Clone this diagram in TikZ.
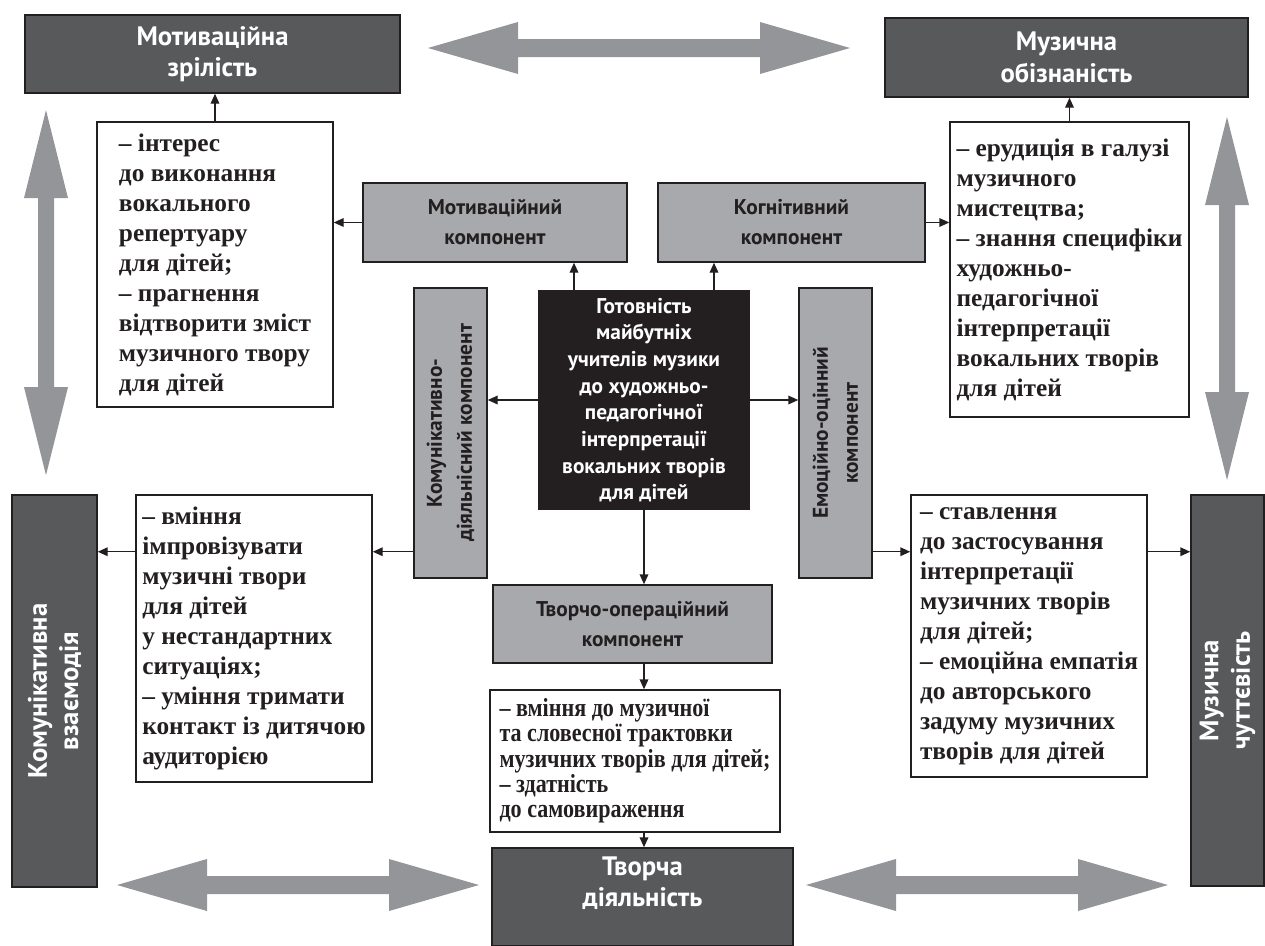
\documentclass[tikz,border=0pt]{standalone}
\usepackage{fontspec}
\setmainfont{Liberation Serif}
\setsansfont{PT Sans}
\newfontfamily\narrowserif[FakeStretch=0.85]{Liberation Serif}
\usepackage{xcolor}
\usetikzlibrary{arrows.meta, positioning, calc}
\definecolor{MDDark}{RGB}{88, 89, 91}
\definecolor{MDGrey}{RGB}{167, 169, 172}
\definecolor{MDArrow}{RGB}{147, 149, 152}
\definecolor{MDInk}{RGB}{35, 31, 32}

% wide grey double arrows (tip to tip)
\newcommand{\hbiarrow}[3]{%
  \fill[MDArrow] (#1,#3) -- ++(90,-26) -- ++(0,17) -- ({#2-90},{#3-9}) -- ++(0,-17)
    -- (#2,#3) -- ({#2-90},{#3+26}) -- ++(0,-17) -- ({#1+90},{#3+9}) -- ++(0,17) -- cycle;}
\newcommand{\vbiarrow}[3]{%
  \fill[MDArrow] (#1,#2) -- ++(-22,88) -- ++(14,0) -- ({#1-8},{#3-88}) -- ++(-14,0)
    -- (#1,#3) -- ({#1+22},{#3-88}) -- ++(-14,0) -- ({#1+8},{#2+88}) -- ++(14,0) -- cycle;}

\tikzset{
  darkbox/.style={draw=MDInk, line width=1.1pt, fill=MDDark, inner sep=0pt, text=white,
    align=center, font=\sffamily\bfseries\fontsize{20}{23.5}\selectfont},
  greybox/.style={draw=MDInk, line width=1.1pt, fill=MDGrey, inner sep=0pt, text=MDInk,
    align=center, font=\sffamily\bfseries\fontsize{16}{22.5}\selectfont},
  corebox/.style={fill=MDInk, inner sep=0pt, text=white,
    align=center, font=\sffamily\bfseries\fontsize{16}{20}\selectfont},
  listbox/.style={draw=MDInk, line width=1.1pt, fill=white, inner sep=0pt, text=MDInk,
    align=left, font=\rmfamily\bfseries\fontsize{19}{22.5}\selectfont},
  conn/.style={-{Triangle[length=7.5pt,width=6.5pt]}, line width=1.1pt, MDInk}
}

\begin{document}
\begin{tikzpicture}[x=0.75pt,y=-0.75pt]
  \path[use as bounding box] (0,0) rectangle (1265,946);

  % grey double arrows between the outer boxes
  \hbiarrow{428}{850}{48}
  \hbiarrow{117}{479}{885}
  \hbiarrow{806}{1168}{885}
  \vbiarrow{46}{110}{475}
  \vbiarrow{1227}{117}{480}

  % outer dark boxes (rotated ones: north = left side, south = right side)
  \node[darkbox, minimum width=281.25pt, minimum height=58.5pt] (mz) at (212.5,54) {Мотиваційна\\зрілість};
  \node[darkbox, minimum width=272.25pt, minimum height=59.25pt] (mo) at (1066.5,57.5) {Музична\\обізнаність};
  \node[darkbox, rotate=90, minimum width=294pt, minimum height=63.75pt] (kv) at (54.5,691) {Комунікативна\\взаємодія};
  \node[darkbox, rotate=90, minimum width=293.25pt, minimum height=54.75pt] (mch) at (1227.5,690.5) {Музична\\чуттєвість};
  \node[darkbox, minimum width=225.75pt, minimum height=73.5pt] (td) at (642.5,897) {Творча\\діяльність\\\mbox{}};

  % core and components
  \node[corebox, minimum width=159pt, minimum height=165pt] (gm) at (644,400) {Готовність\\майбутніх\\учителів музики\\до художньо-\\педагогічної\\інтерпретації\\вокальних творів\\для дітей};
  \node[greybox, minimum width=198pt, minimum height=59.25pt] (mk) at (495,222.5) {Мотиваційний\\компонент};
  \node[greybox, minimum width=200.25pt, minimum height=59.25pt] (kk) at (791.5,222.5) {Когнітивний\\компонент};
  \node[greybox, rotate=90, minimum width=217.5pt, minimum height=54.75pt] (kdk) at (450.5,433) {Комунікативно-\\діяльнісний компонент};
  \node[greybox, rotate=90, minimum width=217.5pt, minimum height=54.75pt] (eok) at (835.5,433) {Емоційно-оцінний\\компонент};
  \node[greybox, minimum width=209.25pt, minimum height=58.5pt] (tok) at (632.5,624) {Творчо-операційний\\компонент};

  % indicator lists
  \node[listbox, minimum width=177pt, minimum height=213.75pt] (wmz) at (215,264.5) {– інтерес\\до виконання\\вокального\\репертуару\\для дітей;\\– прагнення\\відтворити зміст\\музичного твору\\для дітей};
  \node[listbox, minimum width=179.25pt, minimum height=221.25pt] (wmo) at (1069.5,269.5) {– ерудиція в галузі\\музичного\\мистецтва;\\– знання специфіки\\художньо-\\педагогічної\\інтерпретації\\вокальних творів\\для дітей};
  \node[listbox, minimum width=177pt, minimum height=215.25pt] (wkv) at (254,638.5) {– вміння\\імпровізувати\\музичні твори\\для дітей\\у нестандартних\\ситуаціях;\\– уміння тримати\\контакт із дитячою\\аудиторією};
  \node[listbox, minimum width=177pt, minimum height=211.5pt] (wmch) at (1029,636) {– ставлення\\до застосування\\інтерпретації\\музичних творів\\для дітей;\\– емоційна емпатія\\до авторського\\задуму музичних\\творів для дітей};
  \node[listbox, minimum width=217.5pt, minimum height=106.5pt, font=\narrowserif\bfseries\fontsize{19.5}{19}\selectfont] (wtd) at (635,761) {– вміння до музичної\\та словесної трактовки\\музичних творів для дітей;\\– здатність\\до самовираження};

  % connectors
  \coordinate (upL) at ($(gm.north)+(-70,0)$);
  \coordinate (upR) at ($(gm.north)+(70,0)$);
  \draw[conn] (upL) -- (upL |- mk.south);
  \draw[conn] (upR) -- (upR |- kk.south);
  \draw[conn] (gm.west) -- (gm.west -| kdk.south);
  \draw[conn] (gm.east) -- (gm.east -| eok.north);
  \draw[conn] (gm.south) -- (gm.south |- tok.north);
  \draw[conn] (gm.south |- tok.south) -- (gm.south |- wtd.north);
  \draw[conn] (gm.south |- wtd.south) -- (gm.south |- td.north);
  \draw[conn] (mk.west) -- (mk.west -| wmz.east);
  \draw[conn] (wmz.north) -- (wmz.north |- mz.south);
  \draw[conn] (kk.east) -- (kk.east -| wmo.west);
  \draw[conn] (wmo.north) -- (wmo.north |- mo.south);
  \coordinate (lowL) at ($(kdk.west)+(0,-27)$);
  \coordinate (lowR) at ($(eok.west)+(0,-27)$);
  \draw[conn] (lowL -| kdk.north) -- (lowL -| wkv.east);
  \draw[conn] (lowL -| wkv.west) -- (lowL -| kv.south);
  \draw[conn] (lowR -| eok.south) -- (lowR -| wmch.west);
  \draw[conn] (lowR -| wmch.east) -- (lowR -| mch.north);
\end{tikzpicture}
\end{document}
